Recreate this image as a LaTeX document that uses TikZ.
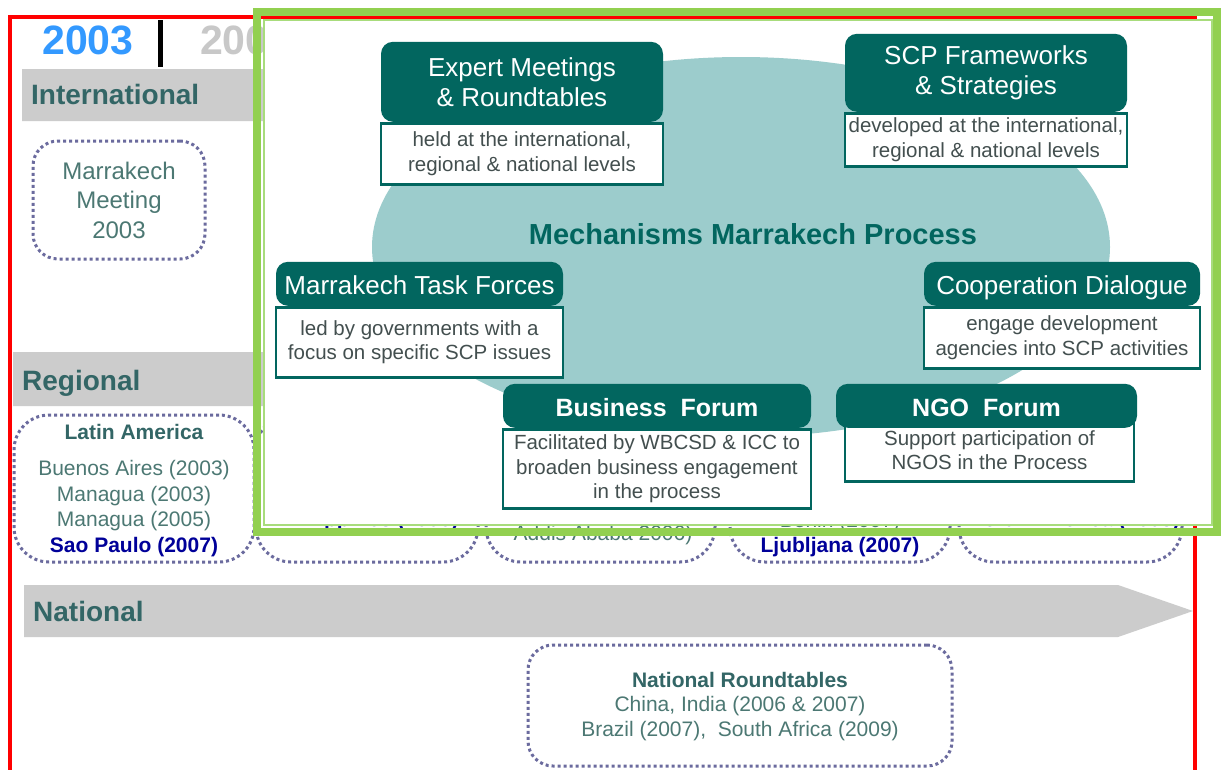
\documentclass[tikz,border=0pt]{standalone}
\usepackage{fontspec}
\setmainfont{Liberation Sans}
\usepackage{tikz}
\usetikzlibrary{positioning}
\definecolor{tealdark}{HTML}{02665F}
\definecolor{tealpale}{HTML}{9CCCCC}
\definecolor{slate}{HTML}{336666}
\definecolor{slatelight}{HTML}{4C7873}
\definecolor{deepblue}{HTML}{000099}
\definecolor{dotpurple}{HTML}{6B6B9E}
\definecolor{bandgrey}{HTML}{CCCCCC}
\definecolor{yeargrey}{HTML}{C8C8C8}
\definecolor{yearblue}{HTML}{3399FF}
\definecolor{framegreen}{HTML}{92D050}
\definecolor{framelight}{HTML}{A8DC7C}
\definecolor{bodytext}{HTML}{434F4F}
\newcommand{\pxfont}[2]{\fontsize{#1}{#2}\selectfont}
\tikzstyle{head}=[fill=tealdark, text=white, rounded corners=12pt, align=center, inner sep=0pt]
\tikzstyle{onehead}=[head, text height=20.4pt, text depth=0pt]
\tikzstyle{panel}=[draw=tealdark, line width=2.5pt, fill=white, align=center, text=bodytext, inner sep=0pt, font=\pxfont{20.5}{24.5}]
\tikzstyle{dotbox}=[draw=dotpurple, line width=3pt, dash pattern=on 3pt off 3pt, rounded corners=25pt]
\tikzstyle{band}=[fill=bandgrey]
\tikzstyle{lane}=[anchor=base west, inner sep=0pt, text=slate, font=\pxfont{28}{28}\bfseries]
\tikzstyle{entry}=[align=center, inner sep=0pt, text=slatelight, font=\pxfont{21}{25.7}]
\tikzstyle{keyentry}=[inner sep=0pt, text=deepblue, font=\pxfont{21}{25.7}\bfseries]
\begin{document}
\begin{tikzpicture}[x=1pt,y=-1pt,node distance=0pt]
\useasboundingbox (0,0) rectangle (1221,769);
\clip (0,0) rectangle (1221,769);
\fill[white] (0,0) rectangle (1221,769);
\draw[red, line width=4.5pt] (10,800) -- (10,17) -- (1195,17) -- (1195,800);

\node[text=yearblue, font=\pxfont{41}{41}\bfseries] (y2003) at (88,40) {2003};
\draw[line width=5pt] (160,20) -- (160,67);
\node[text=yeargrey, font=\pxfont{41}{41}\bfseries, anchor=west, inner sep=0pt] (y2004) at (200,40) {200};

\fill[band] (22,69) -- (1118,69) -- (1193,95) -- (1118,121) -- (22,121) -- cycle;
\node[lane] (intl) at (31,104.5) {International};
\fill[band] (13,352) -- (1118,352) -- (1193,379) -- (1118,406) -- (13,406) -- cycle;
\node[lane] (regl) at (22,390) {Regional};
\fill[band] (24,585) -- (1118,585) -- (1193,611) -- (1118,637) -- (24,637) -- cycle;
\node[lane] (natl) at (33,621) {National};

\node[dotbox, entry, minimum width=172, minimum height=118, font=\pxfont{24}{29.5}] (mkm) at (119,200) {Marrakech\\Meeting\\2003};

\node[dotbox, rounded corners=35pt, minimum width=240, minimum height=147] (latam) at (134,488.5) {};
\node[entry, font=\pxfont{21}{25.7}\bfseries, text=slate] (latamT) at (134,432) {Latin America};
\node[entry] (latamL) at (134,508.5) {Buenos Aires (2003)\\Managua (2003)\\Managua (2005)\\{\color{deepblue}\bfseries Sao Paulo (2007)}};
\node[dotbox, rounded corners=35pt, minimum width=222, minimum height=147] (asia) at (367,488.5) {};
\node[keyentry] (asiaL) at (369,521) {Philippines (2005)};
\node[dotbox, rounded corners=35pt, minimum width=229, minimum height=147] (afr) at (600.5,488.5) {};
\node[entry] (afrL) at (603,535) {Addis Ababa 2006)};
\node[dotbox, rounded corners=35pt, minimum width=220, minimum height=147] (eur) at (840,488.5) {};
\node[entry] (eurL) at (840,522) {Benin (2007)};
\node[keyentry] (eurK) at (840,547) {Ljubljana (2007)};
\node[dotbox, rounded corners=35pt, minimum width=223, minimum height=147] (nam) at (1070.5,488.5) {};
\node[keyentry] (namL) at (1074,521) {North America (2008)};

\node[dotbox, minimum width=424, minimum height=121] (nrt) at (740,705.5) {};
\node[entry, font=\pxfont{21}{25.7}\bfseries, text=slate] (nrtT) at (740,680) {National Roundtables};
\node[entry] (nrtL) at (740,718.5) {China, India (2006 \& 2007)\\Brazil (2007),\ \ South Africa (2009)};

\draw[framegreen, line width=8pt] (257,12) rectangle (1217,532);
\draw[framelight, line width=2pt, fill=white] (264,20) rectangle (1212,525);
\fill[tealpale] (741,247) ellipse [x radius=369, y radius=190];
\node[text=tealdark, font=\pxfont{29}{29}\bfseries] (mmp) at (753,234) {Mechanisms Marrakech Process};

\node[panel, minimum width=282, minimum height=61, anchor=north] (expB) at (522,122) {held at the international,\\regional \& national levels};
\node[head, minimum width=282, minimum height=80, font=\pxfont{26}{30}, above=of expB] (expH) {Expert Meetings\\\& Roundtables};

\node[panel, minimum width=282, minimum height=53, anchor=north] (scpB) at (986,112) {developed at the international,\\regional \& national levels};
\node[head, minimum width=282, minimum height=78, font=\pxfont{26}{30}, above=of scpB] (scpH) {SCP Frameworks\\\& Strategies};

\node[panel, minimum width=287, minimum height=70, anchor=north] (mtfB) at (419.5,306) {led by governments with a\\focus on specific SCP issues};
\node[onehead, minimum width=287, minimum height=44, font=\pxfont{26}{30}, above=of mtfB] (mtfH) {Marrakech Task Forces};

\node[panel, minimum width=276, minimum height=61, anchor=north] (coopB) at (1062,306) {engage development\\agencies into SCP activities};
\node[onehead, minimum width=276, minimum height=44, font=\pxfont{26}{30}, above=of coopB] (coopH) {Cooperation Dialogue};

\node[panel, minimum width=308, minimum height=79, anchor=north] (busB) at (657,428) {Facilitated by WBCSD \& ICC to\\broaden business engagement\\in the process};
\node[onehead, minimum width=308, minimum height=44, font=\pxfont{25}{30}\bfseries, above=of busB] (busH) {Business\ \ Forum};

\node[panel, minimum width=289, minimum height=62, anchor=north] (ngoB) at (989.5,418) {Support participation of\\NGOS in the Process};
\node[onehead, minimum width=301, minimum height=44, font=\pxfont{25}{30}\bfseries, above=-10pt of ngoB, xshift=-3pt] (ngoH) {NGO\ \ Forum};
\end{tikzpicture}
\end{document}
